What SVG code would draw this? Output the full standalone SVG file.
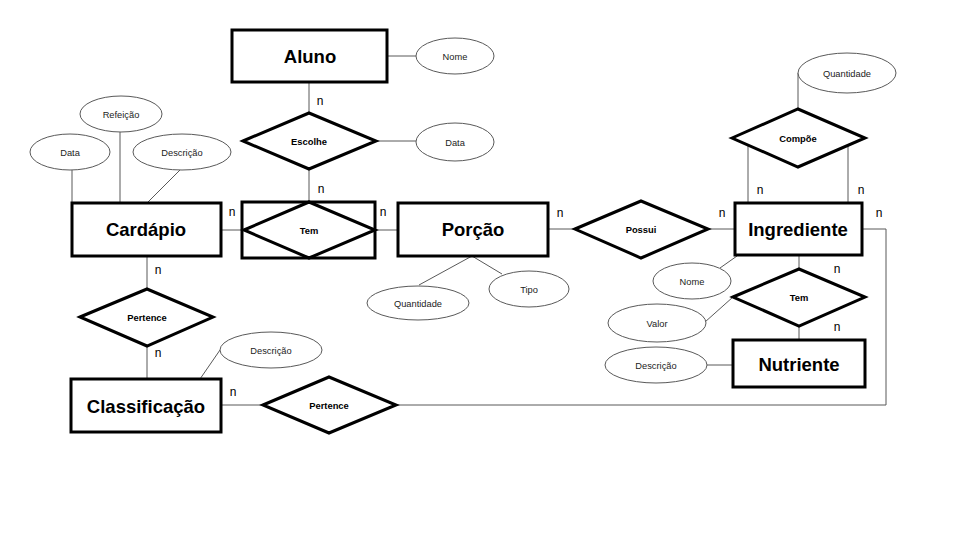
<svg xmlns="http://www.w3.org/2000/svg" width="960" height="540" viewBox="0 0 960 540">
  <style>
    .ent { fill: #fff; stroke: #000; stroke-width: 3; }
    .rel { fill: #fff; stroke: #000; stroke-width: 3; stroke-linejoin: miter; }
    .att { fill: #fff; stroke: #595959; stroke-width: 1; }
    .ln { fill: none; stroke: #595959; stroke-width: 1; }
    .et { font-family: "Liberation Sans", Arial, sans-serif; font-weight: bold; font-size: 18.5px; text-anchor: middle; fill: #000; }
    .rt { font-family: "Liberation Sans", Arial, sans-serif; font-weight: bold; font-size: 9.4px; text-anchor: middle; fill: #000; }
    .at { font-family: "Liberation Sans", Arial, sans-serif; font-size: 9.3px; text-anchor: middle; fill: #222; }
    .card { font-family: "Liberation Sans", Arial, sans-serif; font-size: 12px; text-anchor: middle; fill: #000; }
  </style>
  <rect width="960" height="540" fill="#fff"/>

  <!-- connectors -->
  <g id="connectors">
    <path class="ln" d="M387 56 H416"/>
    <path class="ln" d="M309 82 V113"/>
    <path class="ln" d="M376 141 H416"/>
    <path class="ln" d="M309 169 V202"/>
    <path class="ln" d="M221 230 H244"/>
    <path class="ln" d="M375 230 H398"/>
    <path class="ln" d="M72 170 V203"/>
    <path class="ln" d="M120 132 V203"/>
    <path class="ln" d="M180 170 L147 203"/>
    <path class="ln" d="M147 256 V289"/>
    <path class="ln" d="M147 346 V379"/>
    <path class="ln" d="M220 350 L200 379"/>
    <path class="ln" d="M221 405 H263"/>
    <path class="ln" d="M396 405 H886 V229 H862"/>
    <path class="ln" d="M472 256 L419 285"/>
    <path class="ln" d="M472 256 L502 274"/>
    <path class="ln" d="M548 229 H575"/>
    <path class="ln" d="M708 229 H735"/>
    <path class="ln" d="M798 73 V109"/>
    <path class="ln" d="M748 145 V203"/>
    <path class="ln" d="M848 145 V203"/>
    <path class="ln" d="M799 255 V269"/>
    <path class="ln" d="M799 326 V340"/>
    <path class="ln" d="M737 256 L720 268"/>
    <path class="ln" d="M705 322 L733 297"/>
    <path class="ln" d="M707 365 H733"/>
  </g>

  <!-- cardinality labels -->
  <g id="cardinalities">
    <text class="card" x="320" y="105">n</text>
    <text class="card" x="321" y="193">n</text>
    <text class="card" x="232" y="216">n</text>
    <text class="card" x="383" y="216">n</text>
    <text class="card" x="560" y="217">n</text>
    <text class="card" x="722" y="217">n</text>
    <text class="card" x="760" y="194">n</text>
    <text class="card" x="861" y="194">n</text>
    <text class="card" x="879" y="217">n</text>
    <text class="card" x="837" y="273">n</text>
    <text class="card" x="837" y="331">n</text>
    <text class="card" x="158" y="274">n</text>
    <text class="card" x="158" y="357">n</text>
    <text class="card" x="233" y="396">n</text>
  </g>

  <!-- entities -->
  <g id="aluno">
    <rect class="ent" x="232" y="30" width="155" height="52"/>
    <text class="et" x="310" y="63">Aluno</text>
  </g>
  <g id="cardapio">
    <rect class="ent" x="72" y="203" width="149" height="53"/>
    <text class="et" x="146" y="236">Cardápio</text>
  </g>
  <g id="porcao">
    <rect class="ent" x="398" y="203" width="150" height="53"/>
    <text class="et" x="473" y="236">Porção</text>
  </g>
  <g id="ingrediente">
    <rect class="ent" x="735" y="203" width="127" height="52"/>
    <text class="et" x="798" y="236">Ingrediente</text>
  </g>
  <g id="nutriente">
    <rect class="ent" x="733" y="340" width="132" height="47"/>
    <text class="et" x="799" y="371">Nutriente</text>
  </g>
  <g id="classificacao">
    <rect class="ent" x="71" y="379" width="150" height="53"/>
    <text class="et" x="146" y="413">Classificação</text>
  </g>

  <!-- relationships -->
  <g id="escolhe">
    <polygon class="rel" points="243,141 309,113 376,141 309,169"/>
    <text class="rt" x="309" y="144.5">Escolhe</text>
  </g>
  <g id="tem-associativa">
    <rect class="ent" x="242" y="202" width="133" height="56"/>
    <polygon class="rel" points="244,230 309,202 375,230 309,258"/>
    <text class="rt" x="309" y="233.5">Tem</text>
  </g>
  <g id="possui">
    <polygon class="rel" points="575,229 641,201 708,229 641,258"/>
    <text class="rt" x="641" y="232.5">Possui</text>
  </g>
  <g id="compoe">
    <polygon class="rel" points="732,138 798,109 865,138 798,167"/>
    <text class="rt" x="798" y="141.5">Compõe</text>
  </g>
  <g id="tem-nutriente">
    <polygon class="rel" points="733,297 799,269 865,297 799,326"/>
    <text class="rt" x="799" y="300.5">Tem</text>
  </g>
  <g id="pertence-cardapio">
    <polygon class="rel" points="80,317 147,289 213,317 147,346"/>
    <text class="rt" x="147" y="320.5">Pertence</text>
  </g>
  <g id="pertence-classificacao">
    <polygon class="rel" points="263,405 329,377 396,405 329,433"/>
    <text class="rt" x="329" y="408.5">Pertence</text>
  </g>

  <!-- attributes -->
  <g id="aluno-nome">
    <ellipse class="att" cx="455" cy="56" rx="39" ry="18"/>
    <text class="at" x="455" y="59.5">Nome</text>
  </g>
  <g id="escolhe-data">
    <ellipse class="att" cx="455" cy="142" rx="39" ry="19"/>
    <text class="at" x="455" y="145.5">Data</text>
  </g>
  <g id="cardapio-refeicao">
    <ellipse class="att" cx="121" cy="114" rx="41" ry="18"/>
    <text class="at" x="121" y="117.5">Refeição</text>
  </g>
  <g id="cardapio-data">
    <ellipse class="att" cx="70" cy="152" rx="40" ry="18"/>
    <text class="at" x="70" y="155.5">Data</text>
  </g>
  <g id="cardapio-descricao">
    <ellipse class="att" cx="182" cy="152" rx="49" ry="18"/>
    <text class="at" x="182" y="155.5">Descrição</text>
  </g>
  <g id="porcao-quantidade">
    <ellipse class="att" cx="418" cy="303" rx="51" ry="17"/>
    <text class="at" x="418" y="306.5">Quantidade</text>
  </g>
  <g id="porcao-tipo">
    <ellipse class="att" cx="529" cy="289" rx="40" ry="18"/>
    <text class="at" x="529" y="292.5">Tipo</text>
  </g>
  <g id="compoe-quantidade">
    <ellipse class="att" cx="847" cy="73" rx="49" ry="20"/>
    <text class="at" x="847" y="76.5">Quantidade</text>
  </g>
  <g id="ingrediente-nome">
    <ellipse class="att" cx="692" cy="281" rx="39" ry="18"/>
    <text class="at" x="692" y="284.5">Nome</text>
  </g>
  <g id="tem-valor">
    <ellipse class="att" cx="657" cy="323" rx="49" ry="19"/>
    <text class="at" x="657" y="326.5">Valor</text>
  </g>
  <g id="nutriente-descricao">
    <ellipse class="att" cx="656" cy="365" rx="51" ry="18"/>
    <text class="at" x="656" y="368.5">Descrição</text>
  </g>
  <g id="classificacao-descricao">
    <ellipse class="att" cx="271" cy="350" rx="51" ry="18"/>
    <text class="at" x="271" y="353.5">Descrição</text>
  </g>
</svg>
